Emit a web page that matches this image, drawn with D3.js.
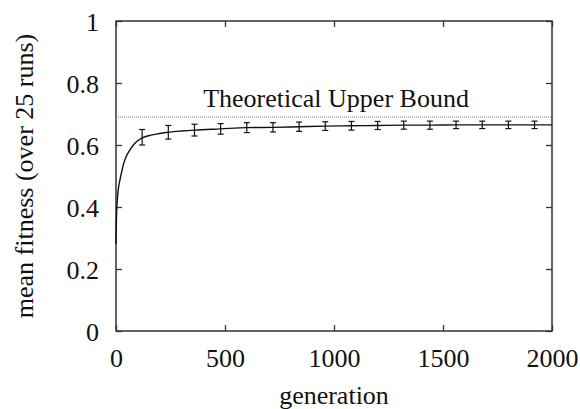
<!DOCTYPE html>
<html>
<head>
<meta charset="utf-8">
<script src="https://cdn.jsdelivr.net/npm/d3@7"></script>
<style>
  body { margin: 0; background: #fff; }
  svg text { font-family: "Liberation Serif", "Times New Roman", Times, "DejaVu Serif", serif; fill: #111; }
</style>
</head>
<body>
<div id="chart"></div>
<script>
// mean fitness curve (generation, fitness)
const curveGen = [0, 2, 4, 8, 12, 18, 25, 35, 45, 64, 80, 95, 120, 160, 200, 240, 300, 360, 480, 600, 720, 840, 960, 1080, 1200, 1320, 1440, 1560, 1680, 1800, 1920, 2000];
const curveFit = [0.28, 0.36, 0.40, 0.44, 0.465, 0.487, 0.51, 0.54, 0.56, 0.584, 0.60, 0.611, 0.623, 0.632, 0.637, 0.641, 0.645, 0.648, 0.652, 0.656, 0.657, 0.659, 0.661, 0.662, 0.663, 0.664, 0.664, 0.665, 0.665, 0.665, 0.665, 0.665];

// error bars every 120 generations
const barGen = [120, 240, 360, 480, 600, 720, 840, 960, 1080, 1200, 1320, 1440, 1560, 1680, 1800, 1920];
const barMean = [0.625, 0.641, 0.648, 0.652, 0.656, 0.657, 0.659, 0.661, 0.662, 0.663, 0.664, 0.664, 0.665, 0.665, 0.665, 0.665];
const barErr = [0.025, 0.022, 0.019, 0.017, 0.016, 0.015, 0.015, 0.014, 0.014, 0.013, 0.013, 0.013, 0.012, 0.012, 0.012, 0.012];

const upperBound = 0.69;
const xTicks = [0, 500, 1000, 1500, 2000];
const yTicks = [0, 0.2, 0.4, 0.6, 0.8, 1];

const W = 580, H = 409;
const margin = { top: 21, right: 28, bottom: 78, left: 116 },
    width = W - margin.left - margin.right,
    height = H - margin.top - margin.bottom;

const svg = d3.select("#chart")
    .append("svg")
    .attr("width", W)
    .attr("height", H)
    .append("g")
    .attr("transform", `translate(${margin.left}, ${margin.top})`);

const x = d3.scaleLinear().domain([0, 2000]).range([0, width]);
const y = d3.scaleLinear().domain([0, 1]).range([height, 0]);

const fontSize = 26;

// axes with inward ticks on all four sides
const axisStyle = g => {
    g.attr("font-family", null).attr("font-size", null);
    g.select(".domain").remove();
    g.selectAll(".tick line").attr("stroke", "#333").attr("stroke-width", 1.3);
    g.selectAll(".tick text")
        .style("font-size", fontSize + "px")
        .attr("fill", "#111");
};

svg.append("g")
    .attr("transform", `translate(0, ${height})`)
    .call(d3.axisBottom(x).tickValues(xTicks).tickFormat(d3.format("d")).tickSizeInner(-6).tickSizeOuter(0))
    .call(axisStyle)
    .call(g => g.selectAll(".tick text").attr("dy", 0).attr("y", 36));

svg.append("g")
    .call(d3.axisTop(x).tickValues(xTicks).tickFormat("").tickSizeInner(-6).tickSizeOuter(0))
    .call(axisStyle);

svg.append("g")
    .call(d3.axisLeft(y).tickValues(yTicks).tickFormat(d => d === 0 || d === 1 ? d : d3.format(".1f")(d)).tickSizeInner(-6).tickSizeOuter(0))
    .call(axisStyle)
    .call(g => g.selectAll(".tick text").attr("x", -17).attr("dy", 9));

svg.append("g")
    .attr("transform", `translate(${width}, 0)`)
    .call(d3.axisRight(y).tickValues(yTicks).tickFormat("").tickSizeInner(-6).tickSizeOuter(0))
    .call(axisStyle);

// frame
svg.append("rect")
    .attr("width", width)
    .attr("height", height)
    .attr("fill", "none")
    .attr("stroke", "#333")
    .attr("stroke-width", 1.5);

// theoretical upper bound
svg.append("line")
    .attr("x1", 0)
    .attr("x2", width)
    .attr("y1", y(upperBound))
    .attr("y2", y(upperBound))
    .attr("stroke", "#777")
    .attr("stroke-width", 1)
    .attr("stroke-dasharray", "1,1");

svg.append("text")
    .attr("x", x(400))
    .attr("y", y(upperBound) - 10)
    .style("font-size", fontSize + "px")
    .text("Theoretical Upper Bound");

// mean curve
const curve = curveGen.map((g, i) => ({ g: g, f: curveFit[i] }));
svg.append("path")
    .datum(curve)
    .attr("fill", "none")
    .attr("stroke", "#111")
    .attr("stroke-width", 1.4)
    .attr("d", d3.line().x(d => x(d.g)).y(d => y(d.f)).curve(d3.curveMonotoneX));

// error bars
const bars = barGen.map((g, i) => ({ g: g, m: barMean[i], e: barErr[i] }));
const eb = svg.selectAll(".errbar")
    .data(bars)
    .enter()
    .append("g")
    .attr("class", "errbar")
    .attr("stroke", "#111")
    .attr("stroke-width", 1.2);

eb.append("line")
    .attr("x1", d => x(d.g)).attr("x2", d => x(d.g))
    .attr("y1", d => y(d.m - d.e)).attr("y2", d => y(d.m + d.e));
eb.append("line")
    .attr("x1", d => x(d.g) - 3).attr("x2", d => x(d.g) + 3)
    .attr("y1", d => y(d.m + d.e)).attr("y2", d => y(d.m + d.e));
eb.append("line")
    .attr("x1", d => x(d.g) - 3).attr("x2", d => x(d.g) + 3)
    .attr("y1", d => y(d.m - d.e)).attr("y2", d => y(d.m - d.e));

// axis titles
svg.append("text")
    .attr("x", width / 2)
    .attr("y", height + 73)
    .attr("text-anchor", "middle")
    .style("font-size", fontSize + "px")
    .text("generation");

svg.append("text")
    .attr("transform", `translate(${33 - margin.left}, ${height / 2}) rotate(-90)`)
    .attr("text-anchor", "middle")
    .style("font-size", fontSize + "px")
    .text("mean fitness (over 25 runs)");
</script>
</body>
</html>
